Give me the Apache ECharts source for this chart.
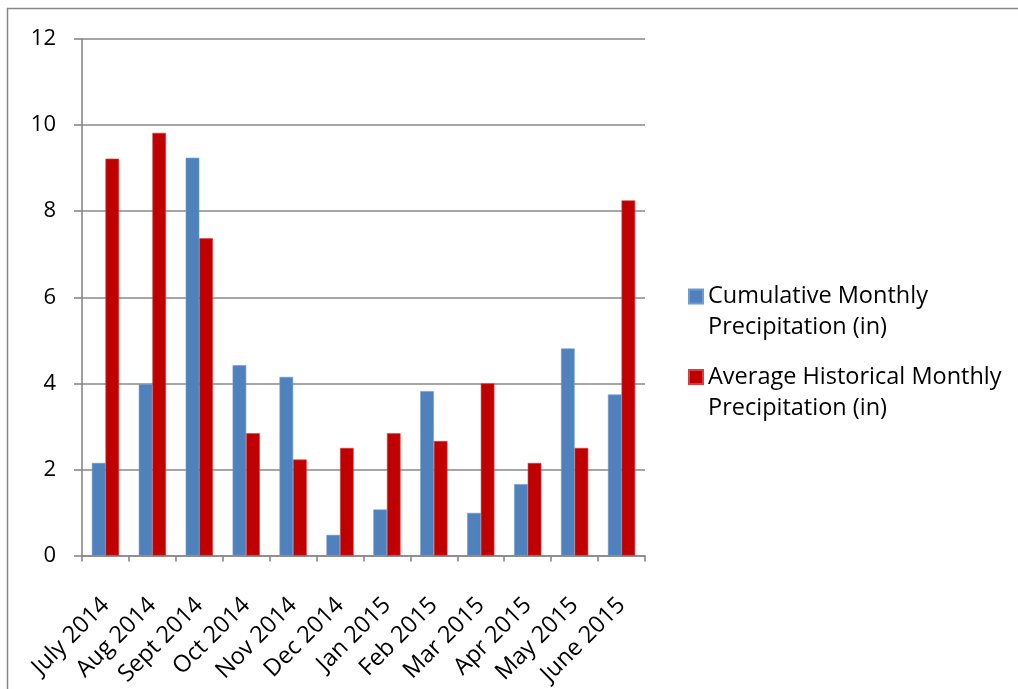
<!DOCTYPE html>
<html>
<head>
<meta charset="utf-8">
<title>Monthly Precipitation</title>
<script src="https://cdn.jsdelivr.net/npm/echarts@6/dist/echarts.min.js"></script>
<style>
  html, body { margin: 0; padding: 0; background: #ffffff; }
  #chart { width: 1018px; height: 689px; }
</style>
</head>
<body>
<div id="chart"></div>
<script>
// Months on the category axis
const months = ['July 2014', 'Aug 2014', 'Sept 2014', 'Oct 2014', 'Nov 2014', 'Dec 2014',
                'Jan 2015', 'Feb 2015', 'Mar 2015', 'Apr 2015', 'May 2015', 'June 2015'];

// Series names
const cumulativeName = 'Cumulative Monthly Precipitation (in)';
const averageName = 'Average Historical Monthly Precipitation (in)';

// Precipitation in inches
const cumulative = [2.15, 3.98, 9.24, 4.42, 4.15, 0.48, 1.07, 3.82, 0.99, 1.66, 4.81, 3.74];
const average    = [9.22, 9.82, 7.37, 2.84, 2.23, 2.50, 2.84, 2.66, 4.00, 2.15, 2.50, 8.25];

// Value axis range
const yMin = 0, yMax = 12, yStep = 2;

const FONT = '"Open Sans", "Noto Sans", sans-serif';
const GRAY = '#888888';

const chart = echarts.init(document.getElementById('chart'), null, { renderer: 'canvas' });

// Legend entries wrap onto two lines. The text block is centred on the icon,
// so a blank leading line puts the icon beside the first line of words.
function legendBlock(name, top) {
  return {
    data: [name],
    orient: 'vertical',
    left: 688,
    top: top,
    padding: 0,
    itemWidth: 14,
    itemHeight: 14,
    itemGap: 0,
    icon: 'rect',
    formatter: function (n) {
      const i = n.indexOf(' Precipitation');
      return '\n' + n.slice(0, i) + '\n' + n.slice(i + 1);
    },
    textStyle: {
      fontFamily: FONT,
      fontSize: 23.5,
      color: '#000',
      lineHeight: 31
    }
  };
}

chart.setOption({
  animation: false,
  backgroundColor: '#ffffff',
  textStyle: { fontFamily: FONT },
  graphic: [{
    type: 'rect',
    shape: { x: 7.5, y: 8.5, width: 1030, height: 700 },
    style: { fill: 'none', stroke: GRAY, lineWidth: 1.5 },
    silent: true
  }],
  legend: [
    legendBlock(cumulativeName, 250),
    legendBlock(averageName, 330.5)
  ],
  grid: { left: 82, right: 373, top: 39, bottom: 130, containLabel: false },
  xAxis: {
    type: 'category',
    data: months,
    axisLine: { show: true, lineStyle: { color: GRAY, width: 1.6 } },
    axisTick: { show: true, length: 6, alignWithLabel: false, lineStyle: { color: GRAY, width: 1.6 } },
    axisLabel: {
      interval: 0,
      rotate: 45,
      margin: 46,
      fontFamily: FONT,
      fontSize: 23.5,
      color: '#000'
    }
  },
  yAxis: {
    type: 'value',
    min: yMin,
    max: yMax,
    interval: yStep,
    axisLine: { show: true, lineStyle: { color: GRAY, width: 1.6 } },
    axisTick: { show: true, length: 8, lineStyle: { color: GRAY, width: 1.6 } },
    splitLine: { show: true, lineStyle: { color: GRAY, width: 1.6 } },
    axisLabel: {
      margin: 26,
      fontFamily: FONT,
      fontSize: 22,
      color: '#000'
    }
  },
  series: [
    {
      name: cumulativeName,
      type: 'bar',
      data: cumulative,
      barWidth: '29%',
      barGap: '0%',
      itemStyle: { color: '#4F81BD', borderColor: '#6F9BD0', borderWidth: 0.6 }
    },
    {
      name: averageName,
      type: 'bar',
      data: average,
      barWidth: '29%',
      barGap: '0%',
      itemStyle: { color: '#C00000', borderColor: '#D44040', borderWidth: 0.6 }
    }
  ]
});
</script>
</body>
</html>
